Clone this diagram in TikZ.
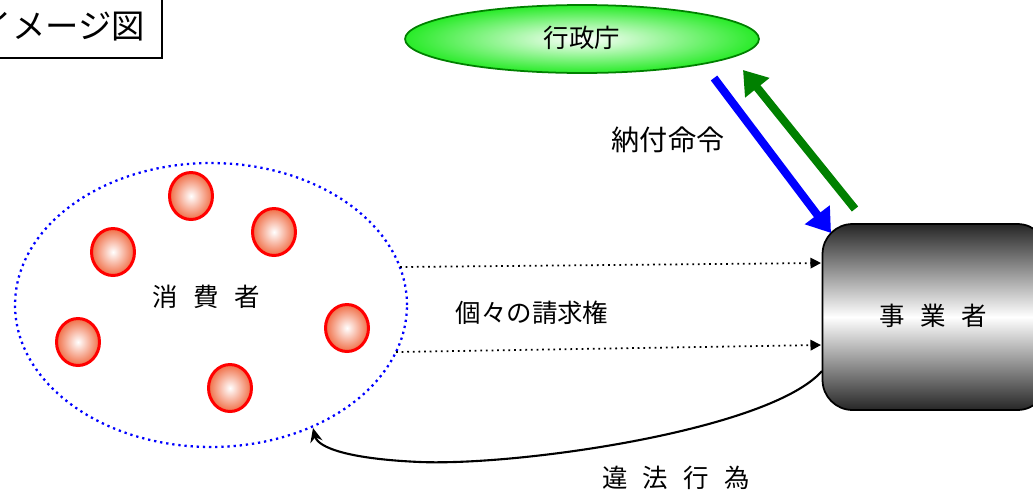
\documentclass[tikz,border=0pt]{standalone}
\usepackage{fontspec}
\setmainfont{Noto Sans CJK JP}
\usetikzlibrary{arrows.meta,shapes.geometric}
\definecolor{dgreen}{RGB}{0,128,0}
\definecolor{lgreen}{RGB}{40,235,40}
\definecolor{pblue}{RGB}{0,0,255}
\definecolor{redge}{RGB}{240,110,70}
\tikzset{
  lbl/.style={font=\fontsize{14.5pt}{16pt}\selectfont, inner sep=0pt},
  person/.style={ellipse, draw=red, line width=1.7pt, minimum width=0.86cm, minimum height=0.94cm, inner sep=0pt, inner color=white, outer color=redge},
  claim/.style={black, line width=1pt, dash pattern=on 1pt off 2.2pt, -{Triangle[length=6pt,width=6pt]}},
  thick arrow/.style={line width=4.6pt, -{Triangle[length=13pt,width=17pt]}},
}
\begin{document}
\begin{tikzpicture}[x=0.02cm,y=-0.02cm]
\useasboundingbox (0,0) rectangle (1033,494);
\clip (0,0) rectangle (1033,494);
% title
\node[draw, line width=0.8pt, minimum width=4.04cm, minimum height=1.36cm, inner sep=0pt] (titlebox) at (61,24) {};
\node[font=\fontsize{19pt}{21pt}\selectfont, inner sep=0pt] (title) at (62,27) {イメージ図};
% administrative agency
\node[ellipse, draw=dgreen, line width=1pt, minimum width=7.08cm, minimum height=1.36cm, inner color=white, outer color=lgreen, inner sep=0pt] (gov) at (582,39) {};
\node[lbl] (govtext) at (582,38) {行政庁};
% business
\node[draw, line width=1pt, rounded corners=0.6cm, minimum width=4.5cm, minimum height=3.72cm, top color=black!85, bottom color=black!85, middle color=white, inner sep=0pt] (biz) at (935,317) {};
\node[lbl] (biztext) at (933,316) {事\hspace{0.6em}業\hspace{0.6em}者};
% consumers
\node[ellipse, draw=pblue, line width=1.3pt, dash pattern=on 1.3pt off 2.2pt, minimum width=7.84cm, minimum height=5.68cm, inner sep=0pt] (cons) at (211,305) {};
\node[lbl] (constext) at (206,297) {消\hspace{0.6em}費\hspace{0.6em}者};
\node[person] (p1) at (191,196) {};
\node[person] (p2) at (274,232) {};
\node[person] (p3) at (113,252) {};
\node[person] (p4) at (78,342) {};
\node[person] (p5) at (347,328) {};
\node[person] (p6) at (230,388) {};
% coordinates
\coordinate (bs) at (714,78);
\coordinate (be) at (831,233);
\coordinate (gs) at (855,209);
\coordinate (ge) at (743,70);
\coordinate (d1s) at (400,267);
\coordinate (d1e) at (821,263);
\coordinate (d2s) at (396,352);
\coordinate (d2e) at (821,345);
\coordinate (cs) at (822,371);
\coordinate (ce) at (313,428);
% arrows
\draw[thick arrow, pblue] (bs) -- (be);
\draw[thick arrow, dgreen] (gs) -- (ge);
\draw[claim] (d1s) -- (d1e);
\draw[claim] (d2s) -- (d2e);
\draw[line width=1.2pt, -{Stealth[length=8pt,width=7pt]}] (cs) .. controls (770,430) and (520,466) .. (420,462) .. controls (350,459) and (318,448) .. (ce);
% labels
\node[font=\fontsize{16pt}{18pt}\selectfont, inner sep=0pt] (order) at (668,140) {納付命令};
\node[lbl] (claimtext) at (532,313) {個々の請求権};
\node[lbl] (illegal) at (676,478) {違\hspace{0.6em}法\hspace{0.6em}行\hspace{0.6em}為};
\end{tikzpicture}
\end{document}
